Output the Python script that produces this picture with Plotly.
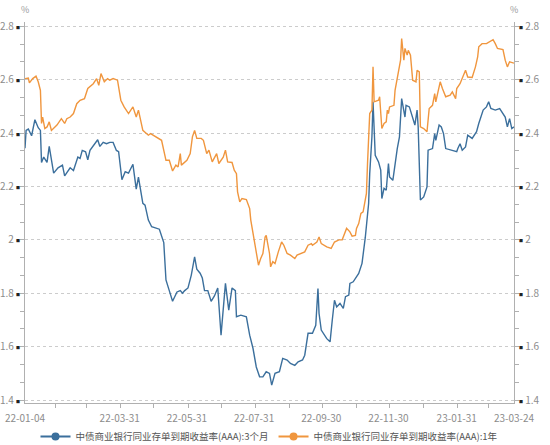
import plotly.graph_objects as go

# 中债商业银行同业存单到期收益率(AAA):3个月
dates_3m = [
    "2022-01-04", "2022-01-05", "2022-01-07", "2022-01-10", "2022-01-13", "2022-01-16",
    "2022-01-18", "2022-01-19", "2022-01-21", "2022-01-24", "2022-01-26", "2022-01-30",
    "2022-02-03", "2022-02-07", "2022-02-09", "2022-02-14", "2022-02-17", "2022-02-21",
    "2022-02-23", "2022-02-25", "2022-02-28", "2022-03-02", "2022-03-04", "2022-03-08",
    "2022-03-11", "2022-03-13", "2022-03-16", "2022-03-19", "2022-03-22", "2022-03-25",
    "2022-03-28", "2022-03-30", "2022-04-02", "2022-04-05", "2022-04-08", "2022-04-12",
    "2022-04-15", "2022-04-17", "2022-04-21", "2022-04-23", "2022-04-26", "2022-04-29",
    "2022-05-03", "2022-05-06", "2022-05-10", "2022-05-12", "2022-05-15", "2022-05-18",
    "2022-05-22", "2022-05-25", "2022-05-27", "2022-05-29", "2022-06-01", "2022-06-04",
    "2022-06-07", "2022-06-09", "2022-06-12", "2022-06-14", "2022-06-16", "2022-06-19",
    "2022-06-22", "2022-06-25", "2022-06-28", "2022-07-01", "2022-07-05", "2022-07-08",
    "2022-07-11", "2022-07-14", "2022-07-15", "2022-07-19", "2022-07-24", "2022-07-27",
    "2022-07-30", "2022-08-02", "2022-08-05", "2022-08-08", "2022-08-11", "2022-08-14",
    "2022-08-16", "2022-08-19", "2022-08-23", "2022-08-26", "2022-08-30", "2022-09-02",
    "2022-09-06", "2022-09-09", "2022-09-13", "2022-09-15", "2022-09-18", "2022-09-22",
    "2022-09-25", "2022-09-27", "2022-09-28", "2022-09-30", "2022-10-05", "2022-10-08",
    "2022-10-10", "2022-10-12", "2022-10-14", "2022-10-17", "2022-10-20", "2022-10-22",
    "2022-10-25", "2022-10-26", "2022-10-29", "2022-11-03", "2022-11-06", "2022-11-09",
    "2022-11-12", "2022-11-13", "2022-11-15", "2022-11-16", "2022-11-18", "2022-11-21",
    "2022-11-23", "2022-11-24", "2022-11-26", "2022-11-28", "2022-11-30", "2022-12-01",
    "2022-12-04", "2022-12-06", "2022-12-08", "2022-12-10", "2022-12-12", "2022-12-15",
    "2022-12-16", "2022-12-19", "2022-12-21", "2022-12-24", "2022-12-26", "2022-12-27",
    "2022-12-29", "2023-01-01", "2023-01-04", "2023-01-05", "2023-01-09", "2023-01-11",
    "2023-01-12", "2023-01-15", "2023-01-17", "2023-01-19", "2023-01-21", "2023-01-27",
    "2023-01-31", "2023-02-01", "2023-02-03", "2023-02-05", "2023-02-08", "2023-02-10",
    "2023-02-14", "2023-02-18", "2023-02-20", "2023-02-24", "2023-02-27", "2023-03-01",
    "2023-03-03", "2023-03-07", "2023-03-11", "2023-03-16", "2023-03-18", "2023-03-20",
    "2023-03-22", "2023-03-24",
]
yield_3m = [
    2.343, 2.41, 2.415, 2.39, 2.45, 2.42,
    2.41, 2.29, 2.31, 2.29, 2.35, 2.25,
    2.27, 2.28, 2.24, 2.27, 2.26, 2.31,
    2.305, 2.335, 2.33, 2.30, 2.335, 2.36,
    2.375, 2.35, 2.365, 2.36, 2.365, 2.365,
    2.335, 2.33, 2.225, 2.255, 2.25, 2.283,
    2.19, 2.235, 2.137, 2.13, 2.074, 2.049,
    2.043, 2.04, 1.99, 1.85, 1.81, 1.77,
    1.805, 1.81, 1.80, 1.81, 1.82, 1.868,
    1.936, 1.89, 1.875, 1.857, 1.81, 1.81,
    1.77, 1.79, 1.82, 1.643, 1.837, 1.737,
    1.82, 1.81, 1.712, 1.718, 1.712, 1.643,
    1.594, 1.524, 1.487, 1.487, 1.506, 1.50,
    1.456, 1.50, 1.506, 1.556, 1.55, 1.537,
    1.53, 1.543, 1.55, 1.568, 1.65, 1.65,
    1.68, 1.818, 1.724, 1.662, 1.63, 1.618,
    1.70, 1.774, 1.749, 1.762, 1.743, 1.787,
    1.793, 1.837, 1.843, 1.874, 1.912, 2.01,
    2.136, 2.248, 2.386, 2.517, 2.317, 2.292,
    2.261, 2.155, 2.193, 2.186, 2.286, 2.236,
    2.223, 2.286, 2.342, 2.386, 2.529, 2.46,
    2.504, 2.498, 2.473, 2.43, 2.486, 2.423,
    2.149, 2.161, 2.198, 2.336, 2.342, 2.398,
    2.373, 2.43, 2.423, 2.398, 2.342, 2.336,
    2.33, 2.342, 2.36, 2.336, 2.348, 2.392,
    2.38, 2.405, 2.436, 2.486, 2.498, 2.517,
    2.492, 2.486, 2.492, 2.46, 2.423, 2.454,
    2.417, 2.423,
]

# 中债商业银行同业存单到期收益率(AAA):1年
dates_1y = [
    "2022-01-04", "2022-01-07", "2022-01-08", "2022-01-11", "2022-01-14", "2022-01-16",
    "2022-01-18", "2022-01-19", "2022-01-20", "2022-01-22", "2022-01-24", "2022-01-26",
    "2022-01-28", "2022-02-02", "2022-02-06", "2022-02-09", "2022-02-11", "2022-02-14",
    "2022-02-17", "2022-02-20", "2022-02-23", "2022-02-27", "2022-03-02", "2022-03-07",
    "2022-03-10", "2022-03-12", "2022-03-14", "2022-03-17", "2022-03-20", "2022-03-22",
    "2022-03-25", "2022-03-29", "2022-04-01", "2022-04-04", "2022-04-08", "2022-04-12",
    "2022-04-15", "2022-04-17", "2022-04-21", "2022-04-26", "2022-04-28", "2022-05-03",
    "2022-05-08", "2022-05-12", "2022-05-15", "2022-05-18", "2022-05-21", "2022-05-23",
    "2022-05-25", "2022-05-26", "2022-05-29", "2022-05-31", "2022-06-03", "2022-06-05",
    "2022-06-07", "2022-06-09", "2022-06-13", "2022-06-15", "2022-06-18", "2022-06-20",
    "2022-06-23", "2022-06-27", "2022-06-29", "2022-07-03", "2022-07-05", "2022-07-07",
    "2022-07-11", "2022-07-13", "2022-07-15", "2022-07-16", "2022-07-18", "2022-07-20",
    "2022-07-24", "2022-07-27", "2022-07-28", "2022-07-30", "2022-08-02", "2022-08-04",
    "2022-08-06", "2022-08-08", "2022-08-10", "2022-08-11", "2022-08-14", "2022-08-15",
    "2022-08-17", "2022-08-19", "2022-08-22", "2022-08-25", "2022-08-27", "2022-08-30",
    "2022-09-02", "2022-09-06", "2022-09-08", "2022-09-12", "2022-09-15", "2022-09-18",
    "2022-09-21", "2022-09-22", "2022-09-26", "2022-09-28", "2022-09-30", "2022-10-05",
    "2022-10-09", "2022-10-12", "2022-10-16", "2022-10-19", "2022-10-21", "2022-10-23",
    "2022-10-26", "2022-10-28", "2022-10-31", "2022-11-01", "2022-11-03", "2022-11-05",
    "2022-11-07", "2022-11-10", "2022-11-11", "2022-11-13", "2022-11-15", "2022-11-16",
    "2022-11-17", "2022-11-21", "2022-11-22", "2022-11-24", "2022-11-26", "2022-11-28",
    "2022-11-29", "2022-11-30", "2022-12-01", "2022-12-05", "2022-12-06", "2022-12-09",
    "2022-12-11", "2022-12-12", "2022-12-14", "2022-12-15", "2022-12-17", "2022-12-18",
    "2022-12-20", "2022-12-22", "2022-12-25", "2022-12-26", "2022-12-28", "2022-12-29",
    "2023-01-01", "2023-01-04", "2023-01-06", "2023-01-09", "2023-01-11", "2023-01-12",
    "2023-01-15", "2023-01-16", "2023-01-18", "2023-01-21", "2023-01-25", "2023-01-27",
    "2023-01-30", "2023-01-31", "2023-02-03", "2023-02-06", "2023-02-08", "2023-02-10",
    "2023-02-14", "2023-02-17", "2023-02-19", "2023-02-20", "2023-02-23", "2023-02-27",
    "2023-03-02", "2023-03-05", "2023-03-07", "2023-03-09", "2023-03-14", "2023-03-16",
    "2023-03-18", "2023-03-20", "2023-03-24",
]
yield_1y = [
    2.604, 2.606, 2.588, 2.604, 2.613, 2.592,
    2.56, 2.436, 2.46, 2.417, 2.423, 2.442,
    2.41, 2.43, 2.454, 2.436, 2.454, 2.46,
    2.473, 2.51, 2.523, 2.529, 2.567, 2.585,
    2.604, 2.579, 2.623, 2.592, 2.604, 2.598,
    2.604, 2.598, 2.523, 2.498, 2.473, 2.498,
    2.46, 2.486, 2.41, 2.392, 2.398, 2.386,
    2.373, 2.298, 2.298, 2.258, 2.28, 2.273,
    2.323, 2.28, 2.292, 2.298, 2.323, 2.386,
    2.41, 2.38, 2.38, 2.373, 2.323, 2.336,
    2.292, 2.323, 2.286, 2.31, 2.336, 2.292,
    2.29, 2.261, 2.248, 2.18, 2.142, 2.155,
    2.151, 2.117, 2.074, 2.024, 1.949, 1.905,
    1.93, 1.949, 2.011, 2.017, 1.949, 1.899,
    1.918, 1.911, 1.955, 1.992, 1.98, 1.949,
    1.943, 1.93, 1.943, 1.949, 1.955, 1.98,
    1.986, 1.98, 1.992, 2.011, 1.986, 1.974,
    1.968, 1.992, 2.0, 2.0, 2.024, 2.043,
    2.03, 2.014, 2.017, 2.043, 2.061, 2.099,
    2.105, 2.174, 2.286, 2.473, 2.486, 2.648,
    2.517, 2.523, 2.536, 2.417, 2.436, 2.442,
    2.486, 2.473, 2.498, 2.504, 2.56, 2.635,
    2.673, 2.754, 2.673, 2.717, 2.692, 2.71,
    2.692, 2.598, 2.592, 2.635, 2.629, 2.423,
    2.417, 2.405, 2.492, 2.504, 2.548, 2.517,
    2.579, 2.592, 2.567, 2.536, 2.542, 2.554,
    2.529, 2.567, 2.585, 2.617, 2.635, 2.61,
    2.608, 2.648, 2.685, 2.723, 2.735, 2.735,
    2.741, 2.75, 2.735, 2.717, 2.713, 2.673,
    2.648, 2.667, 2.662,
]

series_names = ["中债商业银行同业存单到期收益率(AAA):3个月", "中债商业银行同业存单到期收益率(AAA):1年"]
x_tick_dates = ["2022-01-04", "2022-03-31", "2022-05-31", "2022-07-31",
                "2022-09-30", "2022-11-30", "2023-01-31", "2023-03-24"]
x_tick_labels = ["22-01-04", "22-03-31", "22-05-31", "22-07-31",
                 "22-09-30", "22-11-30", "23-01-31", "23-03-24"]
y_ticks = [1.4, 1.6, 1.8, 2.0, 2.2, 2.4, 2.6, 2.8]
y_tick_labels = ["1.4", "1.6", "1.8", "2", "2.2", "2.4", "2.6", "2.8"]

BLUE = "#3b6f9c"
ORANGE = "#f0963e"
FONT = "Noto Sans CJK SC"
y_range = [1.389, 2.816]
SQ = "<span style='font-size:4px;color:#222'>■</span>"

fig = go.Figure()

# real lines, no legend entry
fig.add_trace(go.Scatter(x=dates_3m, y=yield_3m, mode="lines",
                         line=dict(color=BLUE, width=1.4), showlegend=False))
fig.add_trace(go.Scatter(x=dates_1y, y=yield_1y, mode="lines",
                         line=dict(color=ORANGE, width=1.4), showlegend=False))

# legend entries (circle on a line)
for name, col in zip(series_names, [BLUE, ORANGE]):
    fig.add_trace(go.Scatter(x=[None], y=[None], mode="lines+markers", name=name,
                             line=dict(color=col, width=2),
                             marker=dict(color=col, size=8)))

# dummy trace so the right-hand axis gets drawn
fig.add_trace(go.Scatter(x=[dates_3m[0]], y=[y_ticks[0]], yaxis="y2", mode="markers",
                         marker=dict(opacity=0), showlegend=False, hoverinfo="skip"))

minor_y = dict(ticks="outside", ticklen=4, tickcolor="#b0b0b0",
               dtick=0.2 / 3, tick0=1.4, showgrid=False)

fig.update_layout(
    width=550, height=445,
    margin=dict(l=25, r=36, t=22, b=42, autoexpand=False),
    paper_bgcolor="white", plot_bgcolor="white",
    font=dict(family=FONT, size=10, color="#8c8c8c"),
    xaxis=dict(
        type="date", automargin=False,
        range=["2022-01-04", "2023-03-24"],
        tickvals=x_tick_dates, ticktext=x_tick_labels,
        ticks="", ticklabelstandoff=6, showgrid=False,
        showline=True, linecolor="#b0b0b0", linewidth=1,
        tickfont=dict(size=10, color="#8c8c8c"),
        minor=dict(ticks="outside", ticklen=4, tickcolor="#b0b0b0",
                   dtick="M1", tick0="2022-02-01", showgrid=False),
        zeroline=False,
    ),
    yaxis=dict(
        range=y_range, automargin=False,
        tickvals=y_ticks,
        ticktext=[t + " " + SQ for t in y_tick_labels],
        ticks="", ticklabelstandoff=2,
        showgrid=True, gridcolor="#cccccc", griddash="dot", gridwidth=1,
        showline=True, linecolor="#b0b0b0", linewidth=1,
        tickfont=dict(size=10, color="#8c8c8c"),
        minor=minor_y,
        zeroline=False,
    ),
    yaxis2=dict(
        range=y_range, overlaying="y", side="right", automargin=False,
        tickvals=y_ticks,
        ticktext=[SQ + " " + t for t in y_tick_labels],
        ticks="", ticklabelstandoff=2, showgrid=False,
        showline=True, linecolor="#b0b0b0", linewidth=1,
        tickfont=dict(size=10, color="#8c8c8c"),
        minor=minor_y,
        zeroline=False,
    ),
    legend=dict(orientation="h", x=0.5, xanchor="center", y=-0.05, yanchor="top",
                font=dict(size=9.5, color="#555555", family=FONT),
                itemwidth=30, tracegroupgap=0, bgcolor="rgba(0,0,0,0)"),
    annotations=[
        dict(text="%", x=0, y=1.0, xref="paper", yref="paper", xanchor="center",
             yanchor="bottom", yshift=4, showarrow=False, font=dict(size=9, color="#999999")),
        dict(text="%", x=1, y=1.0, xref="paper", yref="paper", xanchor="center",
             yanchor="bottom", yshift=4, showarrow=False, font=dict(size=9, color="#999999")),
    ],
)

# the page has a default 8px body margin; drop it so the figure sits at 0,0
fig.write_html("out.html", config={"displayModeBar": False},
               post_script="document.body.style.margin='0px';")
